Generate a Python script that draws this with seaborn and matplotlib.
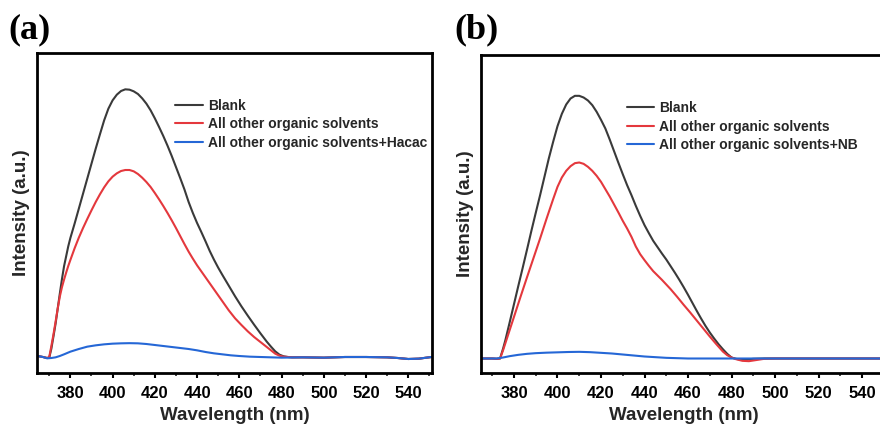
import numpy as np
import pandas as pd
import matplotlib
matplotlib.use("Agg")
import matplotlib.pyplot as plt
import seaborn as sns
from matplotlib.ticker import MultipleLocator, NullLocator

sns.set_style("white")
plt.rcParams['font.family'] = ['Liberation Sans', 'DejaVu Sans']
plt.rcParams['font.weight'] = 'bold'

# ---------------- data: panel (a) ----------------
series_a = ["Blank", "All other organic solvents", "All other organic solvents+Hacac"]

wl_a_blank = [364.5, 367, 369, 370, 371, 372, 373, 374, 375, 376, 377, 378, 379, 380, 382, 384, 386,
              388, 390, 392, 394, 396, 398, 400, 402, 404, 406, 408, 410, 412, 414, 416, 418, 420,
              422, 424, 426, 428, 430, 432, 434, 436, 438, 440, 442, 444, 446, 448, 450, 452, 455,
              458, 461, 464, 467, 470, 473, 475, 477, 479, 481, 483, 485, 490, 500, 510, 520, 530,
              535, 540, 545, 551]
int_a_blank = [3, 0, -3, -2, 25, 62, 100, 145, 190, 233, 272, 302, 332, 357, 400, 445, 490,
               535, 580, 625, 668, 710, 745, 770, 787, 798, 803, 802, 797, 789, 776, 760, 740, 716,
               690, 663, 634, 603, 570, 537, 503, 465, 432, 402, 375, 347, 318, 292, 268, 246, 214,
               182, 152, 124, 97, 71, 46, 31, 17, 7, 2, 0, -1, -1, -2, 0, 0, -1,
               -3, -6, -5, 0]

wl_a_red = [364.5, 367, 369, 370, 371, 372, 373, 374, 375, 376, 377, 378, 379, 380, 382, 384, 386,
            388, 390, 392, 394, 396, 398, 400, 402, 404, 406, 408, 410, 412, 414, 416, 418, 420,
            422, 424, 426, 428, 430, 432, 434, 436, 438, 440, 442, 444, 446, 448, 450, 452, 455,
            458, 461, 464, 467, 470, 473, 475, 477, 479, 481, 483, 485, 490, 500, 510, 520, 530,
            535, 540, 545, 551]
int_a_red = [3, 0, -3, 0, 33, 68, 106, 145, 181, 209, 232, 253, 273, 291, 326, 358, 387,
             414, 440, 465, 488, 509, 527, 541, 551, 558, 561, 561, 557, 549, 538, 525, 510, 492,
             473, 453, 432, 410, 387, 363, 339, 316, 295, 275, 257, 239, 221, 203, 185, 167, 140,
             116, 96, 77, 60, 45, 30, 20, 10, 4, 1, 0, -1, -1, -2, 0, 0, -1,
             -3, -6, -5, 0]

wl_a_blue = [364.5, 367, 369, 371, 373, 375, 377, 380, 384, 388, 392, 396, 400, 404, 408, 412,
             416, 420, 424, 428, 432, 436, 440, 444, 448, 452, 456, 460, 465, 470, 475, 480,
             490, 500, 510, 520, 530, 535, 540, 545, 551]
int_a_blue = [3, 0, -4, -3, -1, 3, 8, 16, 24, 31, 35, 38, 40, 41, 41.5, 41,
              39, 36, 33, 30, 27, 24, 20, 15, 11, 8, 5, 3, 1, 0, -1, -2,
              -1, -2, 0, 0, -1, -3, -6, -5, 0]

# ---------------- data: panel (b) ----------------
series_b = ["Blank", "All other organic solvents", "All other organic solvents+NB"]

wl_b_blank = [364.7, 370, 372, 373.6, 375, 376, 378, 380, 382, 384, 386, 388, 390, 392, 394, 396,
              398, 400, 402, 404, 406, 408, 410, 412, 414, 416, 418, 420, 422, 424, 426, 428, 430,
              432, 434, 436, 438, 440, 442, 444, 446, 448, 450, 452, 454, 456, 458, 460, 462, 464,
              466, 468, 470, 472, 474, 476, 478, 480, 482, 484, 487, 490, 495, 510, 530, 551]
int_b_blank = [0, 0, -1, 0, 30, 54, 108, 163, 218, 272, 327, 383, 437, 490, 545, 600,
               650, 697, 734, 762, 780, 788, 788, 783, 774, 760, 740, 716, 690, 657, 622, 587, 553,
               520, 490, 458, 428, 400, 376, 353, 334, 315, 297, 277, 257, 236, 214, 191, 167, 143,
               120, 98, 78, 60, 43, 28, 14, 3, -1, -3, -3, -1, 0, 0, 0, 0]

wl_b_red = [364.7, 370, 372, 373.6, 375, 377, 380, 383, 386, 389, 392, 395, 398, 400, 402, 404,
            406, 408, 410, 412, 414, 416, 418, 420, 422, 424, 426, 428, 430, 432, 434, 436, 438,
            440, 442, 444, 446, 448, 450, 452, 455, 458, 461, 464, 467, 470, 473, 476, 478, 480,
            482, 485, 488, 491, 495, 500, 510, 530, 551]
int_b_red = [0, 0, -1, 0, 25, 65, 125, 185, 244, 302, 360, 420, 478, 515, 543, 563,
             577, 586, 588, 584, 575, 563, 548, 530, 508, 486, 462, 438, 413, 390, 365, 336, 313,
             295, 278, 262, 249, 236, 222, 208, 185, 161, 138, 114, 90, 66, 43, 21, 10, 3,
             -2, -7, -8, -5, -1, 0, 0, 0, 0]

wl_b_blue = [364.7, 370, 372, 375, 378, 382, 386, 390, 395, 400, 405, 410, 415, 420, 425, 430,
             435, 440, 445, 450, 455, 460, 480, 500, 551]
int_b_blue = [0, 0, 0, 3, 7, 11, 14, 16, 17.5, 18.5, 19.5, 20, 19, 17, 15, 12,
              9, 6, 4, 2, 1, 0, 0, 0, 0]

x_ticks = [380, 400, 420, 440, 460, 480, 500, 520, 540]

colors = ["#3a3a3a", "#e4383d", "#2567d6"]

def frame(wls, ints, names):
    parts = []
    for w, v, n in zip(wls, ints, names):
        parts.append(pd.DataFrame({"Wavelength": w, "Intensity": v, "Series": n}))
    return pd.concat(parts, ignore_index=True)

df_a = frame([wl_a_blank, wl_a_red, wl_a_blue], [int_a_blank, int_a_red, int_a_blue], series_a)
df_b = frame([wl_b_blank, wl_b_red, wl_b_blue], [int_b_blank, int_b_red, int_b_blue], series_b)

fig = plt.figure(figsize=(8.8, 4.25), dpi=100)
W, H = 880.0, 425.0
ax_a = fig.add_axes([37 / W, 1 - 373 / H, (431.7 - 37) / W, (373 - 53) / H])
ax_b = fig.add_axes([480.7 / W, 1 - 373 / H, (886 - 480.7) / W, (373 - 55) / H])

def style(ax, df, names, ylim, xlim, leg_anchor, panel, panel_xy):
    sns.lineplot(data=df, x="Wavelength", y="Intensity", hue="Series", hue_order=names,
                 palette=colors, estimator=None, linewidth=1.5, ax=ax, legend=False,
                 solid_joinstyle="round", solid_capstyle="round")
    ax.set_xlim(*xlim)
    ax.set_ylim(*ylim)
    ax.set_xticks(x_ticks)
    ax.xaxis.set_minor_locator(MultipleLocator(10))
    ax.yaxis.set_major_locator(NullLocator())
    for s in ax.spines.values():
        s.set_visible(True)
        s.set_linewidth(2.0)
        s.set_color("black")
    ax.tick_params(axis="x", which="major", direction="out", length=3.5, width=1.5,
                   labelsize=12, pad=6, bottom=True, colors="black")
    ax.tick_params(axis="x", which="minor", direction="out", length=2.2, width=1.2, bottom=True)
    for lab in ax.get_xticklabels():
        lab.set_fontweight("bold")
    ax.set_xlabel("Wavelength (nm)", fontsize=13.5, fontweight="bold", labelpad=4)
    ax.set_ylabel("Intensity (a.u.)", fontsize=13.5, fontweight="bold", labelpad=5)
    handles = [plt.Line2D([], [], color=c, linewidth=1.5) for c in colors]
    ax.legend(handles, names, loc="upper left", bbox_to_anchor=leg_anchor, frameon=False,
              prop={"weight": "bold", "size": 10}, handlelength=2.0, handletextpad=0.36,
              labelspacing=0.33, borderpad=0, borderaxespad=0)
    fig.text(panel_xy[0] / W, 1 - panel_xy[1] / H, panel, fontsize=26, fontweight="bold",
             family=["Liberation Serif", "DejaVu Serif"], ha="center", va="center",
             color="black")

style(ax_a, df_a, series_a, (-48, 912), (364.2, 551.1), (0.35, 0.857), "(a)", (30, 30))
style(ax_b, df_b, series_b, (-43.5, 910.5), (364.7, 551), (0.36, 0.855), "(b)", (477, 30))

fig.savefig("out.png", dpi=100)
